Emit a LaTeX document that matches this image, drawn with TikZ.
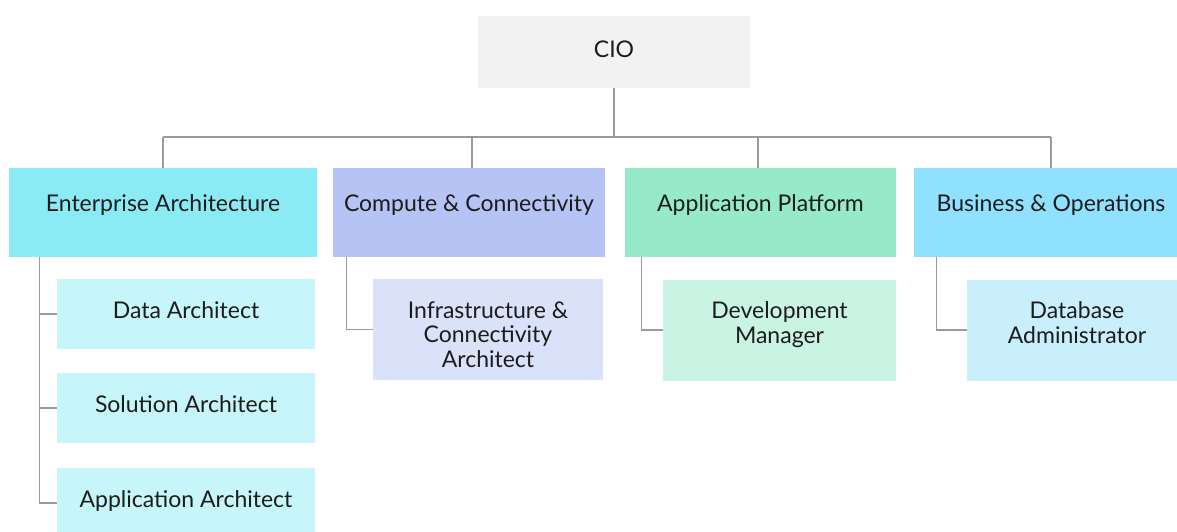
\documentclass[tikz,border=0pt]{standalone}
\usepackage{fontspec}
\setmainfont{Lato}
\definecolor{linegray}{HTML}{9A9A9A}
\definecolor{txt}{HTML}{1C1C1C}
\definecolor{ciofill}{HTML}{F2F2F2}
\definecolor{eafill}{HTML}{8BEBF4}
\definecolor{easub}{HTML}{C6F6F9}
\definecolor{ccfill}{HTML}{B5C4F4}
\definecolor{ccsub}{HTML}{DAE2FA}
\definecolor{apfill}{HTML}{96EACA}
\definecolor{apsub}{HTML}{C9F4E3}
\definecolor{bofill}{HTML}{8FE1FD}
\definecolor{bosub}{HTML}{C9EFFD}
\tikzset{
  box/.style={inner sep=0pt, align=center, text=txt,
    font=\fontsize{23}{24.5}\selectfont},
  ciobox/.style={box, fill=ciofill, minimum width=272pt, text height=42pt, text depth=30pt},
  headbox/.style={box, minimum width=#1, text height=43pt, text depth=46pt},
  % text height is measured to the last line's baseline
  subbox/.style 2 args={box, minimum width=#1, text height=#2, text depth=70pt-#2},
  tallbox/.style 2 args={box, minimum width=#1, text height=#2, text depth=101pt-#2},
  link/.style={draw=linegray, line width=1.3pt}
}
\begin{document}
\begin{tikzpicture}[x=1pt, y=-1pt]
\useasboundingbox (0,0) rectangle (1177,532);
\fill[white] (0,0) rectangle (1177,532);

% top of the chart
\node[ciobox] (cio) at (614,52) {CIO};

% department heads
\node[headbox=308pt, fill=eafill] (ea) at (163,212.5) {Enterprise Architecture};
\node[headbox=272pt, fill=ccfill] (cc) at (469,212.5) {Compute \& Connectivity};
\node[headbox=271pt, fill=apfill] (ap) at (760.5,212.5) {Application Platform};
\node[headbox=274pt, fill=bofill] (bo) at (1051,212.5) {Business \& Operations};

% roles under each department
\node[subbox={258pt}{39pt}, fill=easub] (da) at (186,314) {Data Architect};
\node[subbox={258pt}{39pt}, fill=easub] (sa) at (186,408) {Solution Architect};
\node[subbox={258pt}{39pt}, fill=easub] (aa) at (186,503) {Application Architect};
\node[tallbox={230pt}{88pt}, fill=ccsub] (ic) at (488,329.5) {Infrastructure \&\\Connectivity\\Architect};
\node[tallbox={233pt}{63.5pt}, fill=apsub] (dm) at (779.5,330) {Development\\Manager};
\node[tallbox={220pt}{63.5pt}, fill=bosub] (dba) at (1077,330) {Database\\Administrator};

% bus from the CIO to the department heads
\coordinate (bus) at (614,137);
\draw[link] (cio.south) -- (bus);
\draw[link] (ea.north |- bus) -- (bo.north |- bus);
\draw[link] (ea.north |- bus) -- (ea.north);
\draw[link] ([xshift=3pt]cc.north |- bus) -- ([xshift=3pt]cc.north);
\draw[link] ([xshift=-2.5pt]ap.north |- bus) -- ([xshift=-2.5pt]ap.north);
\draw[link] (bo.north |- bus) -- (bo.north);

% trunks from each head to its roles
\draw[link] ([xshift=31pt]ea.south west) |- (aa.west);
\draw[link] ([xshift=31pt]ea.south west |- da.west) -- (da.west);
\draw[link] ([xshift=31pt]ea.south west |- sa.west) -- (sa.west);
\draw[link] ([xshift=14pt]cc.south west) |- (ic.west);
\draw[link] ([xshift=17pt]ap.south west) |- (dm.west);
\draw[link] ([xshift=23pt]bo.south west) |- (dba.west);
\end{tikzpicture}
\end{document}
